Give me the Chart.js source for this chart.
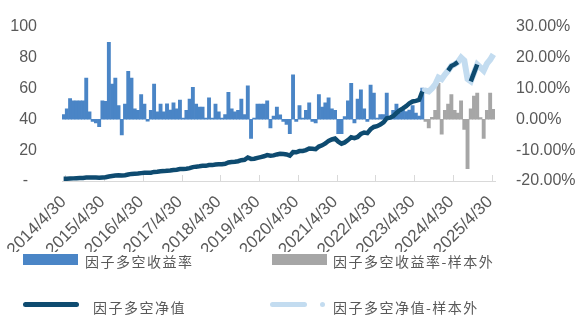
<!DOCTYPE html>
<html>
<head>
<meta charset="utf-8">
<script src="https://cdn.jsdelivr.net/npm/chart.js@4.4.1/dist/chart.umd.min.js"></script>
<style>
    body { margin: 0; background: #fff; }
    #wrap { position: relative; width: 576px; height: 324px; }
    #legend { position: absolute; left: 0; top: 0; width: 576px; height: 324px; pointer-events: none;
        font-family: "Noto Sans CJK SC", sans-serif; font-size: 14px; color: #595959; letter-spacing: 1.5px; }
    #legend div { position: absolute; white-space: nowrap; }
</style>
</head>
<body>
<div id="wrap">
    <canvas id="chart" width="576" height="324"></canvas>
    <div id="legend"></div>
</div>
<script>
// monthly axis: 2014/4 .. 2025/5
const startYear = 2014, startMonth = 4, monthCount = 134;

// 因子多空收益率 (%), 2014/4 .. 2023/7
const inSampleReturn = [
    1.5, 3.4, 6.7, 6.0, 6.0, 6.0, 6.0, 13.3, 2.4, -0.7, -1.2, -2.4, 6.0, 5.8, 24.9, 11.4, 13.3, 4.4, -5.1, 4.9,
    15.5, 13.3, 3.4, 2.9, 8.0, 4.9, -0.6, 2.9, 11.4, 2.4, 4.9, 2.4, 5.0, 3.0, 5.3, 3.4, 6.2, 0.4, 2.9, 6.5,
    10.3, 4.9, 3.9, 3.9, 0.4, 6.9, 0.4, 4.9, 2.4, 0.4, 1.5, 8.7, 3.4, 2.4, 2.9, 6.5, 1.5, 10.8, -6.2, 0.4,
    4.9, 4.9, 4.9, 6.0, -2.8, 1.0, 3.9, 1.4, -0.7, -1.7, -4.7, 14.4, -0.7, 4.4, 0.4, 2.9, 5.3, -0.7, -1.2, 8.0,
    3.9, 5.3, 6.9, 3.4, 2.9, -4.7, -4.7, 0.9, 6.0, 11.6, -1.2, 6.5, 9.5, 3.4, -0.7, 11.1, 8.5, 0.4, 1.5, 1.5,
    8.5, 0.4, 2.9, 4.9, 2.0, 3.0, 2.5, 3.0, 4.4, 2.0, 1.0, 10.1
];
// 因子多空收益率-样本外 (%), 2023/8 .. 2025/5
const outSampleReturn = [
    -0.7, -2.8, 0.6, 2.9, 11.6, -4.8, 2.9, 4.9, 8.0, 2.9, 2.0, 6.0, -3.3, -16.0, 3.4, 7.5, 8.5, 0.5, -6.2, 2.9,
    8.5, 3.2
];
// 因子多空净值, 2014/4 .. 2023/7
const inSampleNav = [
    1.5, 1.5, 1.6, 1.7, 1.8, 1.9, 2.0, 2.2, 2.2, 2.2, 2.2, 2.1, 2.3, 2.4, 2.9, 3.2, 3.5, 3.7, 3.5, 3.7,
    4.2, 4.6, 4.7, 4.8, 5.1, 5.3, 5.3, 5.4, 5.9, 6.0, 6.3, 6.4, 6.7, 6.8, 7.1, 7.3, 7.7, 7.7, 7.9, 8.3,
    9.0, 9.3, 9.5, 9.8, 9.8, 10.3, 10.3, 10.7, 10.9, 10.9, 11.1, 12.0, 12.3, 12.5, 12.8, 13.5, 13.7, 15.2, 14.3, 14.4,
    15.0, 15.5, 16.0, 16.8, 16.4, 16.6, 17.2, 17.6, 17.5, 17.2, 16.4, 18.7, 18.6, 19.4, 19.5, 20.0, 21.0, 20.9, 20.6, 22.3,
    23.1, 24.3, 26.0, 26.9, 27.5, 25.5, 24.2, 25.0, 26.5, 28.3, 27.8, 28.5, 30.5, 31.4, 31.0, 33.5, 35.0, 35.5, 36.5, 38.0,
    40.6, 41.0, 42.0, 44.0, 45.7, 47.0, 48.5, 50.3, 51.5, 51.9, 52.5, 58.0
];
// 因子多空净值-样本外, 2023/7 .. 2025/5
const outSampleNav = [
    58.0, 58.5, 58.0, 60.0, 62.5, 67.0, 66.0, 69.0, 71.5, 74.5, 75.5, 77.0, 80.0, 78.0, 66.0, 64.5, 70.0, 75.5, 73.5, 71.5,
    76.0, 78.5, 82.0
];
// months after 2023/7 where the dark line also shows through
const darkOverlayIdx = [119, 120, 121, 122, 126, 127, 128];

function buildLabels() {
    const out = [];
    for (let k = 0; k < monthCount; k++) {
        const m0 = startMonth - 1 + k;
        const y = startYear + Math.floor(m0 / 12);
        const m = m0 % 12 + 1;
        const d = new Date(y, m, 0).getDate();
        out.push(`${y}/${m}/${d}`);
    }
    return out;
}

const labels = buildLabels();
const split = inSampleReturn.length;

const barIn = labels.map((_, i) => i < split ? inSampleReturn[i] : null);
const barOut = labels.map((_, i) => i >= split ? outSampleReturn[i - split] : null);
const navIn = labels.map((_, i) => {
    if (i < split) return inSampleNav[i];
    if (darkOverlayIdx.includes(i)) return outSampleNav[i - split + 1];
    return null;
});
const navOut = labels.map((_, i) => i >= split - 1 ? outSampleNav[i - split + 1] : null);

const axisFont = { family: 'Liberation Sans, Arial, sans-serif', size: 16 };

const innerTicks = {
    id: 'innerTicks',
    beforeDatasetsDraw(chart) {
        const xs = chart.scales.x;
        const ctx = chart.ctx;
        const bottom = chart.chartArea.bottom;
        ctx.save();
        ctx.strokeStyle = '#D9D9D9';
        ctx.lineWidth = 1;
        labels.forEach((l, i) => {
            if (l.split('/')[1] !== '4') return;
            const px = Math.round(xs.getPixelForValue(i) + 1.6) + 0.5;
            ctx.beginPath();
            ctx.moveTo(px, bottom);
            ctx.lineTo(px, bottom - 6);
            ctx.stroke();
        });
        ctx.restore();
    }
};

const chart = new Chart(document.getElementById('chart'), {
    type: 'bar',
    data: {
        labels: labels,
        datasets: [
            { type: 'line', label: '因子多空净值', data: navIn, yAxisID: 'yL', borderColor: '#0E4B70',
              borderWidth: 4.5, pointRadius: 0, tension: 0, spanGaps: false, order: 1 },
            { type: 'line', label: '因子多空净值-样本外', data: navOut, yAxisID: 'yL', borderColor: '#C3DCF0',
              borderWidth: 6, pointRadius: 0, tension: 0, order: 2 },
            { label: '因子多空收益率', data: barIn, yAxisID: 'yR', backgroundColor: '#4A85C6',
              barPercentage: 1, categoryPercentage: 1, grouped: false, order: 3 },
            { label: '因子多空收益率-样本外', data: barOut, yAxisID: 'yR', backgroundColor: '#A6A6A6',
              barPercentage: 1, categoryPercentage: 1, grouped: false, order: 3 }
        ]
    },
    options: {
        responsive: false,
        animation: false,
        layout: { padding: { top: 18, left: 0, right: 0, bottom: 72 } },
        plugins: { legend: { display: false }, tooltip: { enabled: false } },
        scales: {
            x: {
                offset: true,
                grid: { display: false },
                border: { color: '#D9D9D9' },
                ticks: {
                    autoSkip: false, minRotation: 45, maxRotation: 45, padding: 3,
                    color: '#595959', font: { family: 'Liberation Sans, Arial, sans-serif', size: 17 },
                    callback: function (val) {
                        const l = this.getLabelForValue(val);
                        return l.split('/')[1] === '4' ? l : null;
                    }
                },
                afterFit(s) { s.height = 71; }
            },
            yL: {
                position: 'left', min: 0, max: 100,
                grid: { display: false }, border: { display: false },
                ticks: { stepSize: 20, padding: 17, color: '#595959', font: axisFont,
                         callback: v => v === 0 ? '-  ' : v },
                afterFit(s) { s.width = 62; }
            },
            yR: {
                position: 'right', min: -20, max: 30,
                grid: { display: false }, border: { display: false },
                ticks: { stepSize: 10, padding: 13, color: '#595959', font: axisFont,
                         callback: v => v.toFixed(2) + '%' },
                afterFit(s) { s.width = 81; }
            }
        }
    },
    plugins: [innerTicks]
});

// legend drawn as html, 2 x 2 grid like the original
function buildLegend() {
    const legend = document.getElementById('legend');
    const ds = chart.data.datasets;
    const items = [
        { d: ds[2], sx: 23, sy: 254, text: 85, ty: 261 },
        { d: ds[3], sx: 272, sy: 254, text: 333, ty: 261 },
        { d: ds[0], sx: 23, sy: 302, text: 93, ty: 307 },
        { d: ds[1], sx: 270, sy: 302, text: 333, ty: 307 }
    ];
    items.forEach((it, k) => {
        const sw = document.createElement('div');
        if (it.d.type === 'line') {
            sw.style.cssText = `left:${it.sx}px;top:${it.sy}px;width:56px;height:5px;border-radius:3px;background:${it.d.borderColor}`;
            if (k === 3) {
                sw.style.width = '37px';
                const dot = document.createElement('div');
                dot.style.cssText = `left:${it.sx + 50}px;top:${it.sy}px;width:5px;height:5px;border-radius:3px;background:${it.d.borderColor}`;
                legend.appendChild(dot);
            }
        } else {
            sw.style.cssText = `left:${it.sx}px;top:${it.sy}px;width:55px;height:11px;background:${it.d.backgroundColor}`;
        }
        legend.appendChild(sw);
        const tx = document.createElement('div');
        tx.textContent = it.d.label;
        tx.style.cssText = `left:${it.text}px;top:${it.ty - 10}px;line-height:20px`;
        legend.appendChild(tx);
    });
}
buildLegend();
</script>
</body>
</html>
